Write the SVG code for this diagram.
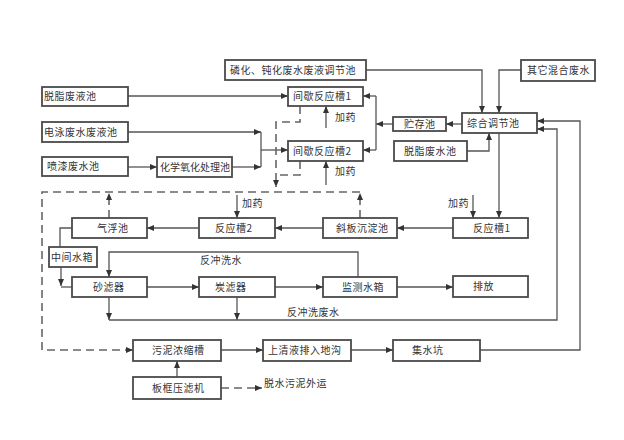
<svg xmlns="http://www.w3.org/2000/svg" width="624" height="440" viewBox="0 0 624 440">
<style>
.box{fill:#fff;stroke:#4a4a4a;stroke-width:1.8}
.t{font-family:"Noto Sans CJK SC","Noto Sans",sans-serif;font-size:10px;fill:#333;letter-spacing:0.5px}
.ln{fill:none;stroke:#555;stroke-width:1.3}
.ds{fill:none;stroke:#666;stroke-width:1.6;stroke-dasharray:8 5}
</style>
<defs>
<marker id="a" markerUnits="userSpaceOnUse" markerWidth="7" markerHeight="6" refX="7" refY="3" orient="auto">
<path d="M0,0 L7,3 L0,6 z" fill="#333"/>
</marker>
</defs>
<rect width="624" height="440" fill="#fff"/>
<g id="connectors">
<path class="ln" d="M128,96 H288" marker-end="url(#a)"/>
<path class="ln" d="M128,132 H261" marker-end="url(#a)"/>
<path class="ln" d="M261,132 V167"/>
<path class="ln" d="M232,167 H261" marker-end="url(#a)"/>
<path class="ln" d="M261,150 H288" marker-end="url(#a)"/>
<path class="ln" d="M128,167 H157" marker-end="url(#a)"/>
<path class="ln" d="M326,128 V106" marker-end="url(#a)"/>
<path class="ln" d="M326,185 V161" marker-end="url(#a)"/>
<path class="ln" d="M393,124 H376" marker-end="url(#a)"/>
<path class="ln" d="M376,96 V150"/>
<path class="ln" d="M376,96 H363" marker-end="url(#a)"/>
<path class="ln" d="M376,150 H363" marker-end="url(#a)"/>
<path class="ln" d="M462,124 H446" marker-end="url(#a)"/>
<path class="ln" d="M366,70 H482 V113" marker-end="url(#a)"/>
<path class="ln" d="M521,70 H499 V113" marker-end="url(#a)"/>
<path class="ln" d="M467,151 H489 V133" marker-end="url(#a)"/>
<path class="ln" d="M499,133 V218" marker-end="url(#a)"/>
<path class="ln" d="M473,195 V218" marker-end="url(#a)"/>
<path class="ln" d="M237,195 V218" marker-end="url(#a)"/>
<path class="ln" d="M453,228 H397" marker-end="url(#a)"/>
<path class="ln" d="M323,228 H275" marker-end="url(#a)"/>
<path class="ln" d="M199,228 H147" marker-end="url(#a)"/>
<path class="ln" d="M72,228 H60 V247"/>
<path class="ln" d="M61,267 V286" marker-end="url(#a)"/>
<path class="ln" d="M61,287 H72"/>
<path class="ln" d="M147,287 H199" marker-end="url(#a)"/>
<path class="ln" d="M275,287 H323" marker-end="url(#a)"/>
<path class="ln" d="M397,287 H453" marker-end="url(#a)"/>
<path class="ln" d="M358,277 V252 H109 V277" marker-end="url(#a)"/>
<path class="ln" d="M109,297 V320" marker-end="url(#a)"/>
<path class="ln" d="M237,297 V320" marker-end="url(#a)"/>
<path class="ln" d="M109,320 H557 V129 H537" marker-end="url(#a)"/>
<path class="ln" d="M480,350 H580 V121 H537" marker-end="url(#a)"/>
<path class="ln" d="M221,350 H263" marker-end="url(#a)"/>
<path class="ln" d="M351,350 H393" marker-end="url(#a)"/>
<path class="ln" d="M177,377 V361" marker-end="url(#a)"/>
<path class="ds" d="M300,106 V122 H276 V187" marker-end="url(#a)"/>
<path class="ds" d="M300,161 V175 H276"/>
<path class="ds" d="M360,218 V193" marker-end="url(#a)"/>
<path class="ds" d="M109,218 V193" marker-end="url(#a)"/>
<path class="ds" d="M360,192 H42 V350 H133" marker-end="url(#a)"/>
<path class="ds" d="M221,388 H262" marker-end="url(#a)"/>
</g>
<g id="n1"><rect class="box" x="225" y="60" width="141" height="20"/><text class="t" x="230" y="74">磷化、钝化废水废液调节池</text></g>
<g id="n2"><rect class="box" x="521" y="60" width="74" height="21"/><text class="t" x="527" y="74">其它混合废水</text></g>
<g id="n3"><rect class="box" x="42" y="87" width="86" height="19"/><text class="t" x="44" y="100">脱脂废液池</text></g>
<g id="n4"><rect class="box" x="42" y="122" width="86" height="20"/><text class="t" x="44" y="136">电泳废水废液池</text></g>
<g id="n5"><rect class="box" x="42" y="157" width="86" height="19"/><text class="t" x="47" y="170">喷漆废水池</text></g>
<g id="n6"><rect class="box" x="157" y="157" width="75" height="20"/><text class="t" x="160" y="171" style="letter-spacing:0">化学氧化处理池</text></g>
<g id="n7"><rect class="box" x="288" y="87" width="75" height="19"/><text class="t" x="293" y="100">间歇反应槽1</text></g>
<g id="n8"><rect class="box" x="288" y="141" width="75" height="20"/><text class="t" x="293" y="155">间歇反应槽2</text></g>
<g id="n9"><rect class="box" x="393" y="117" width="53" height="14"/><text class="t" x="404" y="128">贮存池</text></g>
<g id="n10"><rect class="box" x="462" y="113" width="75" height="20"/><text class="t" x="467" y="127">综合调节池</text></g>
<g id="n11"><rect class="box" x="394" y="141" width="73" height="20"/><text class="t" x="404" y="155">脱脂废水池</text></g>
<g id="n12"><rect class="box" x="453" y="218" width="75" height="20"/><text class="t" x="473" y="232">反应槽1</text></g>
<g id="n13"><rect class="box" x="323" y="218" width="74" height="20"/><text class="t" x="336" y="232">斜板沉淀池</text></g>
<g id="n14"><rect class="box" x="199" y="218" width="76" height="20"/><text class="t" x="215" y="232">反应槽2</text></g>
<g id="n15"><rect class="box" x="72" y="218" width="75" height="20"/><text class="t" x="97" y="232">气浮池</text></g>
<g id="n16"><rect class="box" x="49" y="247" width="48" height="20"/><text class="t" x="51" y="261">中间水箱</text></g>
<g id="n17"><rect class="box" x="72" y="277" width="75" height="20"/><text class="t" x="93" y="291">砂滤器</text></g>
<g id="n18"><rect class="box" x="199" y="277" width="76" height="20"/><text class="t" x="215" y="291">炭滤器</text></g>
<g id="n19"><rect class="box" x="323" y="277" width="74" height="20"/><text class="t" x="342" y="291">监测水箱</text></g>
<g id="n20"><rect class="box" x="453" y="276" width="75" height="21"/><text class="t" x="473" y="290">排放</text></g>
<g id="n21"><rect class="box" x="133" y="340" width="88" height="21"/><text class="t" x="152" y="354">污泥浓缩槽</text></g>
<g id="n22"><rect class="box" x="263" y="340" width="88" height="21"/><text class="t" x="268" y="354">上清液排入地沟</text></g>
<g id="n23"><rect class="box" x="393" y="340" width="87" height="21"/><text class="t" x="412" y="354">集水坑</text></g>
<g id="n24"><rect class="box" x="133" y="377" width="88" height="22"/><text class="t" x="152" y="392">板框压滤机</text></g>
<g id="labels">
<text class="t" x="335" y="121">加药</text>
<text class="t" x="335" y="175">加药</text>
<text class="t" x="242" y="207">加药</text>
<text class="t" x="448" y="207">加药</text>
<text class="t" x="200" y="264">反冲洗水</text>
<text class="t" x="287" y="316">反冲洗废水</text>
<text class="t" x="264" y="387">脱水污泥外运</text>
</g>
</svg>
